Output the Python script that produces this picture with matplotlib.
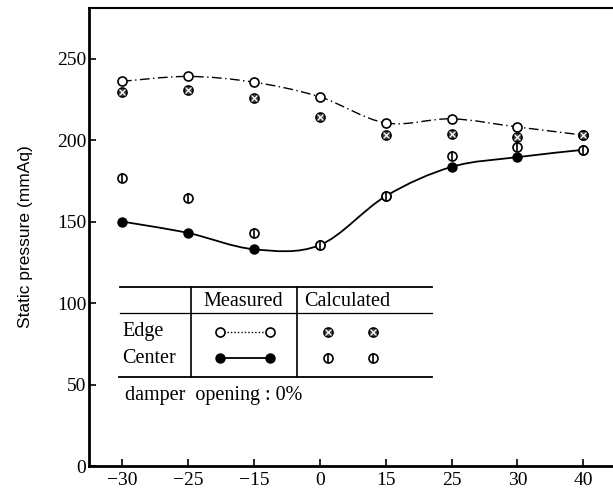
import matplotlib.pyplot as plt
import numpy as np
from matplotlib.path import Path
from matplotlib.patches import PathPatch

plt.rcParams['font.family'] = ['Liberation Serif', 'DejaVu Serif']

x_labels = ['\u221230', '\u221225', '\u221215', '0', '15', '25', '30', '40']
edge_meas = [236, 239, 235.5, 226.5, 210.5, 213, 208, 203]
edge_calc = [229.5, 230.5, 226, 214, 203, 204, 202, 203]
center_meas = [150, 143, 133, 135.5, 165.5, 183.5, 189.5, 194]
center_calc = [176.5, 164.5, 143, 135.5, 165.5, 190.5, 196, 194]

x = np.arange(len(x_labels))


def smooth(xs, ys, t=1/6):
    # Catmull-Rom style bezier through the points
    n = len(xs)
    verts = [(xs[0], ys[0])]
    codes = [Path.MOVETO]
    for i in range(n - 1):
        a = max(i - 1, 0)
        b = min(i + 2, n - 1)
        c1 = (xs[i] + (xs[i + 1] - xs[a]) * t, ys[i] + (ys[i + 1] - ys[a]) * t)
        c2 = (xs[i + 1] - (xs[b] - xs[i]) * t, ys[i + 1] - (ys[b] - ys[i]) * t)
        verts += [c1, c2, (xs[i + 1], ys[i + 1])]
        codes += [Path.CURVE4] * 3
    return Path(verts, codes)


fig = plt.figure(figsize=(6.13, 4.98), dpi=100)
ax = fig.add_axes([89/613, 32/498, 524/613, 458/498])

dashdot = (0, (7, 2.5, 1, 2.5))
ax.add_patch(PathPatch(smooth(x, edge_meas), fill=False, lw=1.0,
                       linestyle=dashdot, edgecolor='black'))
ax.add_patch(PathPatch(smooth(x, center_meas), fill=False, lw=1.3,
                       edgecolor='black'))

ms = 6.5
ax.plot(x, edge_meas, 'o', ms=ms, mfc='white', mec='black', mew=1.2, zorder=3)
ax.plot(x, center_meas, 'o', ms=ms, mfc='black', mec='black', zorder=3)
ax.plot(x, edge_calc, 'o', ms=ms, mfc='#444444', mec='black', mew=1.2, zorder=4)
ax.plot(x, edge_calc, 'x', ms=4, mec='white', mew=0.9, zorder=5)
ax.plot(x, center_calc, 'o', ms=ms, mfc='white', mec='black', mew=1.2, zorder=4)
ax.plot(x, center_calc, '|', ms=ms, mec='black', mew=1.2, zorder=5)

ax.set_xlim(-0.5, 7.45)
ax.set_ylim(0, 281)
ax.set_xticks(x)
ax.set_xticklabels(x_labels)
ax.set_yticks([0, 50, 100, 150, 200, 250])
ax.tick_params(direction='in', length=5, width=1.2, labelsize=14, pad=2)
ax.tick_params(axis='x', pad=4)
ax.spines['right'].set_visible(False)
ax.spines['left'].set_linewidth(2)
ax.spines['bottom'].set_linewidth(2)
ax.spines['top'].set_linewidth(1.5)
ax.set_ylabel('Static pressure (mmAq)', fontsize=12.5, family='Liberation Sans')
ax.yaxis.set_label_coords(-0.107, 0.5)

# legend table
tr = ax.transAxes
kw = dict(transform=tr, color='black', clip_on=False)
ax.plot([0.059, 0.655], [0.3915, 0.3915], lw=1.3, **kw)
ax.plot([0.059, 0.655], [0.334, 0.334], lw=0.9, **kw)
ax.plot([0.057, 0.655], [0.195, 0.195], lw=1.3, **kw)
ax.plot([0.1947, 0.1947], [0.195, 0.3915], lw=1.2, **kw)
ax.plot([0.397, 0.397], [0.195, 0.3915], lw=1.2, **kw)

fs = 14.5
ax.text(0.295, 0.36, 'Measured', transform=tr, ha='center', va='center', fontsize=fs)
ax.text(0.41, 0.36, 'Calculated', transform=tr, ha='left', va='center', fontsize=fs)
ax.text(0.063, 0.2932, 'Edge', transform=tr, ha='left', va='center', fontsize=fs)
ax.text(0.063, 0.2358, 'Center', transform=tr, ha='left', va='center', fontsize=fs)
ax.text(0.068, 0.155, 'damper  opening : 0%', transform=tr, ha='left', va='center', fontsize=fs)

ax.plot([0.25, 0.345], [0.2932, 0.2932], lw=1.0, linestyle=(0, (1, 1.5)), **kw)
ax.plot([0.25, 0.345], [0.2932, 0.2932], 'o', ms=ms, mfc='white', mec='black',
        mew=1.2, transform=tr, clip_on=False)
ax.plot([0.25, 0.345], [0.2358, 0.2358], lw=1.3, **kw)
ax.plot([0.25, 0.345], [0.2358, 0.2358], 'o', ms=ms, mfc='black', mec='black',
        transform=tr, clip_on=False)
ax.plot([0.456, 0.542], [0.2932, 0.2932], 'o', ms=ms, mfc='#444444', mec='black',
        mew=1.2, transform=tr, clip_on=False)
ax.plot([0.456, 0.542], [0.2932, 0.2932], 'x', ms=4, mec='white', mew=0.9,
        transform=tr, clip_on=False)
ax.plot([0.456, 0.542], [0.2358, 0.2358], 'o', ms=ms, mfc='white', mec='black',
        mew=1.2, transform=tr, clip_on=False)
ax.plot([0.456, 0.542], [0.2358, 0.2358], '|', ms=ms, mec='black', mew=1.2,
        transform=tr, clip_on=False)

plt.savefig('out.png', dpi=100)
